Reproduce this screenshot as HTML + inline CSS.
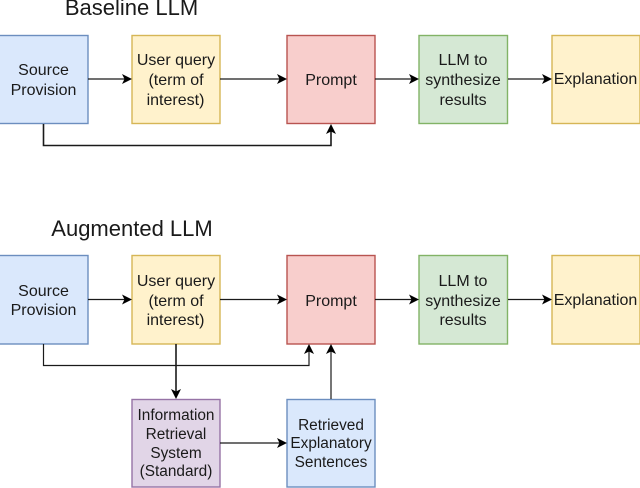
<!DOCTYPE html>
<html>
<head>
<meta charset="utf-8">
<style>
html,body{margin:0;padding:0;background:#fff;}
svg{display:block;}
text{font-family:"Liberation Sans",Arial,sans-serif;fill:#1a1a1a;text-anchor:middle;font-size:16px;}
.t{font-size:22px;}
.s{font-size:15.4px;}
</style>
</head>
<body>
<svg width="640" height="488" viewBox="0 0 640 488" xmlns="http://www.w3.org/2000/svg">
<defs>
<path id="ar" d="M0 0L-10 -5L-7.5 0L-10 5Z" fill="#000"/>
</defs>
<g stroke-width="1.4">
<rect x="-2" y="35.5" width="90" height="88" fill="#dae8fc" stroke="#6c8ebf"/>
<rect x="132" y="35.5" width="88" height="88" fill="#fff2cc" stroke="#d6b656"/>
<rect x="287" y="35.5" width="88" height="88" fill="#f8cecc" stroke="#b85450"/>
<rect x="419" y="35.5" width="88.5" height="88" fill="#d5e8d4" stroke="#82b366"/>
<rect x="552" y="35.5" width="88" height="88" fill="#fff2cc" stroke="#d6b656"/>
<rect x="-2" y="255.5" width="90" height="88.5" fill="#dae8fc" stroke="#6c8ebf"/>
<rect x="132" y="255.5" width="88" height="88.5" fill="#fff2cc" stroke="#d6b656"/>
<rect x="287" y="255.5" width="88" height="88.5" fill="#f8cecc" stroke="#b85450"/>
<rect x="419" y="255.5" width="88.5" height="88.5" fill="#d5e8d4" stroke="#82b366"/>
<rect x="552" y="255.5" width="88" height="88.5" fill="#fff2cc" stroke="#d6b656"/>
<rect x="132" y="399.5" width="88" height="87.5" fill="#e1d5e7" stroke="#9673a6"/>
<rect x="287" y="399.5" width="88" height="87.5" fill="#dae8fc" stroke="#6c8ebf"/>
</g>
<g fill="none" stroke="#1a1a1a" stroke-width="1.2">
<path d="M88 79H125M220 79H280M375 79H412M508 79H545"/>
<path d="M43.5 124V145.5H331V130" stroke-width="1.6"/>
<path d="M88 299.5H125M220 299.5H280M375 299.5H412M508 299.5H545"/>
<path d="M43.5 344V365.5H309V350"/>
<path d="M176 344V392" stroke-width="1.6"/>
<path d="M331 399V350"/>
<path d="M220 443H280"/>
</g>
<use href="#ar" transform="translate(132 79)"/>
<use href="#ar" transform="translate(287 79)"/>
<use href="#ar" transform="translate(419 79)"/>
<use href="#ar" transform="translate(552 79)"/>
<use href="#ar" transform="translate(331 124) rotate(-90)"/>
<use href="#ar" transform="translate(132 299.5)"/>
<use href="#ar" transform="translate(287 299.5)"/>
<use href="#ar" transform="translate(419 299.5)"/>
<use href="#ar" transform="translate(552 299.5)"/>
<use href="#ar" transform="translate(309 344) rotate(-90)"/>
<use href="#ar" transform="translate(331 344) rotate(-90)"/>
<use href="#ar" transform="translate(176 399) rotate(90)"/>
<use href="#ar" transform="translate(287 443)"/>

<text class="t" x="131.5" y="15">Baseline LLM</text>
<text class="t" x="132" y="236">Augmented LLM</text>

<text x="43.5" y="75">Source</text>
<text x="43.5" y="95">Provision</text>
<text x="176" y="65">User query</text>
<text x="176" y="85">(term of</text>
<text x="175.5" y="105">interest)</text>
<text x="331" y="85">Prompt</text>
<text x="463" y="65">LLM to</text>
<text x="463" y="85">synthesize</text>
<text x="463" y="105">results</text>
<text x="595.5" y="84">Explanation</text>

<text x="43.5" y="296">Source</text>
<text x="43.5" y="315">Provision</text>
<text x="176" y="286">User query</text>
<text x="176" y="306">(term of</text>
<text x="175.5" y="325">interest)</text>
<text x="331" y="306">Prompt</text>
<text x="463" y="286">LLM to</text>
<text x="463" y="306">synthesize</text>
<text x="463" y="325">results</text>
<text x="595.5" y="305">Explanation</text>

<text class="s" x="176" y="420">Information</text>
<text class="s" x="176" y="439">Retrieval</text>
<text class="s" x="176" y="458">System</text>
<text class="s" x="176" y="476">(Standard)</text>
<text class="s" x="331" y="430">Retrieved</text>
<text class="s" x="331" y="448">Explanatory</text>
<text class="s" x="331" y="467">Sentences</text>
</svg>
</body>
</html>
